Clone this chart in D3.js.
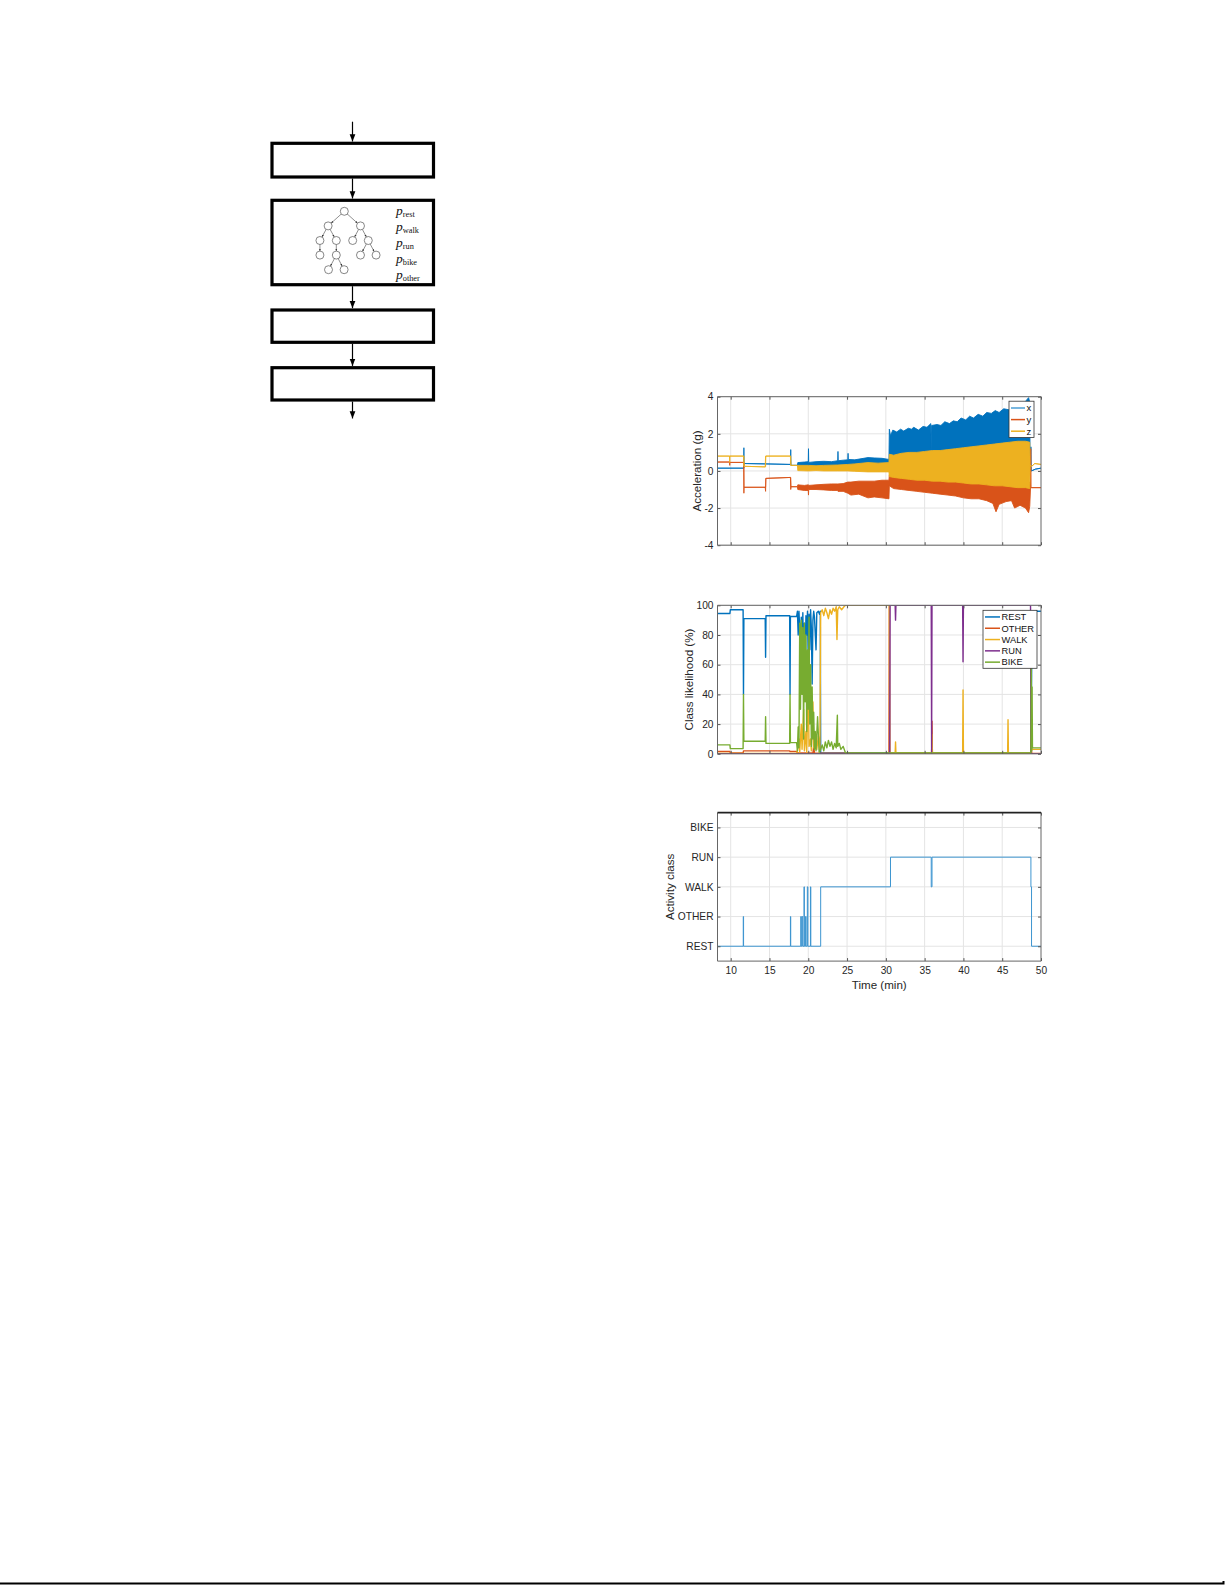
<!DOCTYPE html>
<html lang="en">
<head>
<meta charset="UTF-8">
<title>Activity classification pipeline</title>
<style>
  body { margin: 0; background: #fff; }
  svg { display: block; font-family: "Liberation Sans", Arial, sans-serif; }
  .tick text { fill: #262626; font-size: 10.2px; }
  .tick line { stroke: #555; }
  .grid line { stroke: #e4e4e4; stroke-width: 1; }
  .lbl { fill: #262626; font-size: 11.6px; }
</style>
</head>
<body>
<svg id="fig" width="1225" height="1585"></svg>
<script src="https://d3js.org/d3.v7.min.js"></script>
<script>
// ---- data ----
// acceleration: [time (min), low, high]  (low == high where the signal is quiet)
const accX = [
  [8.3,0.15,0.15],[9.9,0.15,0.15],[11.68,0.15,0.15],[11.7,0.15,1.25],[11.72,0.4,0.4],[14.5,0.38,0.38],
  [17.7,0.35,0.35],[17.74,0.35,1.15],[17.78,0.3,0.3],[18.6,0.3,0.3],
  [18.65,0.25,0.45],[19.5,0.24,0.48],[20.0,0.25,0.5],[20.03,0.25,1.2],[20.06,0.25,0.46],[21,0.26,0.5],
  [22,0.27,0.52],[23,0.27,0.5],[23.8,0.28,0.55],[23.83,0.28,1.05],[23.86,0.28,0.55],[24.5,0.3,0.58],
  [25.1,0.3,0.6],[25.13,0.3,0.95],[25.16,0.3,0.62],[26,0.3,0.6],[27.7,0.3,0.72],[28.5,0.3,0.7],
  [29.5,0.3,0.68],[30.4,0.3,0.62],
  [30.45,0.4,2.25],[30.6,0.4,1.9],[30.9,0.4,2.2],[31.4,0.4,2.1],[31.9,0.4,2.25],[32.3,0.4,2.15],
  [32.9,0.4,2.3],[33.3,0.4,2.25],[33.6,0.4,2.35],[34.2,0.4,2.2],[34.8,0.4,2.4],[35.3,0.4,2.35],
  [35.8,0.4,2.55],[35.85,0.4,1.0],[35.9,0.4,2.45],[36.6,0.4,2.5],[37.1,0.4,2.45],[37.6,0.4,2.65],
  [38.2,0.4,2.55],[38.7,0.4,2.7],[39.2,0.4,2.65],[39.7,0.4,2.85],[40.3,0.4,2.75],[40.8,0.4,2.95],
  [41.3,0.4,2.85],[41.9,0.4,3.05],[42.5,0.4,2.95],[43.0,0.4,3.15],[43.6,0.4,3.1],[44.1,0.4,3.25],
  [44.6,0.4,3.15],[45.2,0.4,3.35],[45.8,0.4,3.3],[46.3,0.4,3.45],[46.8,0.4,3.4],[47.3,0.4,3.6],
  [47.8,0.4,3.55],[48.1,0.4,3.8],[48.4,0.4,3.95],[48.55,0.4,3.7],
  [48.6,0.05,0.05],[48.7,0.05,1.3],[48.75,0.0,0.0],[49.3,0.1,0.1],[50,0.15,0.15]
];
const accY = [
  [8.3,0.48,0.48],[9.85,0.48,0.48],[9.88,0.3,0.48],[9.9,0.46,0.46],[11.68,0.46,0.46],[11.7,-1.2,0.46],
  [11.72,-0.88,-0.88],[14.45,-0.88,-0.88],[14.5,-1.1,-0.88],[14.53,-0.4,-0.4],[17.7,-0.35,-0.35],
  [17.74,-1.0,-0.35],[17.78,-0.85,-0.85],[18.6,-0.85,-0.85],
  [18.65,-1.0,-0.75],[19.5,-1.05,-0.78],[20.0,-1.05,-0.75],[20.03,-1.3,-0.75],[20.06,-1.0,-0.78],
  [21,-1.0,-0.75],[22,-1.02,-0.72],[23,-1.05,-0.7],[23.8,-1.05,-0.7],[23.83,-1.1,-0.7],[24.5,-1.1,-0.68],
  [25.1,-1.2,-0.6],[25.5,-1.3,-0.6],[26.5,-1.25,-0.55],[27.7,-1.45,-0.55],[28.5,-1.4,-0.55],
  [29.5,-1.45,-0.5],[30.4,-1.5,-0.5],
  [30.45,-0.8,-0.2],[31,-0.95,-0.25],[32,-1.0,-0.3],[33,-1.05,-0.3],[34,-1.1,-0.35],[35,-1.15,-0.35],
  [36,-1.2,-0.4],[37,-1.25,-0.4],[38,-1.3,-0.4],[39,-1.35,-0.45],[40,-1.45,-0.45],[41,-1.5,-0.5],
  [42,-1.5,-0.5],[43,-1.6,-0.5],[43.8,-1.75,-0.5],[44.2,-2.2,-0.55],[44.6,-1.8,-0.55],[45.5,-1.65,-0.55],
  [46.2,-1.6,-0.55],[46.6,-2.0,-0.6],[47.3,-1.85,-0.6],[48,-2.0,-0.6],[48.4,-2.25,-0.6],[48.55,-1.9,-0.6],
  [48.65,-0.9,-0.9],[48.68,-0.9,1.2],[48.72,-0.9,-0.9],[50,-0.9,-0.9]
];
const accZ = [
  [8.3,0.8,0.8],[9.85,0.8,0.8],[9.88,0.45,0.8],[9.9,0.8,0.8],[11.68,0.8,0.8],[11.7,0.25,0.8],
  [11.72,0.25,0.25],[14.45,0.22,0.22],[14.5,0.22,0.8],[14.53,0.8,0.8],[17.7,0.8,0.8],[17.74,0.3,0.8],
  [17.78,0.3,0.3],[18.6,0.3,0.3],
  [18.65,0.02,0.3],[20,0.0,0.3],[21,0.02,0.28],[22,0.0,0.3],[23.8,0.0,0.32],[25.1,0.0,0.35],
  [26,-0.02,0.38],[27.7,-0.05,0.45],[29,-0.05,0.42],[30.4,-0.05,0.45],
  [30.45,-0.3,0.9],[31,-0.35,0.85],[32,-0.4,0.95],[33,-0.45,1.0],[34,-0.5,1.0],[35,-0.5,1.05],
  [36,-0.55,1.1],[37,-0.55,1.1],[38,-0.6,1.15],[39,-0.6,1.2],[40,-0.65,1.25],[41,-0.7,1.3],
  [42,-0.7,1.35],[43,-0.75,1.4],[44,-0.8,1.45],[45,-0.8,1.5],[46,-0.85,1.55],[47,-0.9,1.6],
  [48,-0.9,1.6],[48.55,-0.95,1.55],
  [48.6,0.3,0.3],[48.8,0.25,0.25],[49.2,0.4,0.4],[50,0.35,0.35]
];
const accNames = ["x", "y", "z"];

// class likelihood (%): [time (min), value]
const pRest = [
  [8.3,94.5],[9.9,94.5],[9.95,97],[11.6,97],[11.65,40],[11.7,91],[14.45,91],[14.5,65],[14.55,93],
  [17.6,93],[17.65,40],[17.7,92.5],[18.5,92.5],[18.6,96],[18.7,80],[18.8,96],[18.9,84],[19.0,66],
  [19.1,92],[19.2,60],[19.3,95],[19.4,55],[19.5,88],[19.6,48],[19.7,93],[19.8,80],[19.9,96],[20.0,62],
  [20.1,94],[20.2,70],[20.3,97],[20.4,85],[20.5,47],[20.6,90],[20.7,96],[20.8,92],[21.0,70],[21.1,95],
  [21.3,96],[21.45,94],[21.55,96],[21.6,0.6],[48.7,0.6],[48.8,60],[48.9,96],[50,96]
];
const pOther = [
  [8.3,1.5],[9.9,1.5],[9.95,0.5],[11.6,0.5],[11.65,2],[17.6,2],[17.65,1.5],[18.5,1.5],[18.6,0.5],
  [20.6,0.5],[20.7,5],[20.8,0.5],[30.4,0.3],[30.45,100],[30.5,0.3],[35.9,0.3],[35.95,22],[36,0.3],
  [48.7,0.3],[48.75,8],[48.8,0.3],[50,0.3]
];
const pWalk = [
  [8.3,0.3],[18.5,0.3],[18.6,2],[18.8,10],[18.9,1],[19.1,20],[19.2,3],[19.4,30],[19.5,2],[19.7,15],
  [19.8,1],[20.0,45],[20.1,5],[20.3,10],[20.4,2],[20.6,35],[20.7,4],[20.9,8],[21.1,3],[21.3,12],
  [21.5,2],[21.6,95],[21.8,97],[22,93],[22.2,98],[22.4,95],[22.6,91],[22.8,97],[23,94],[23.2,98],
  [23.4,96],[23.6,99],[23.7,77],[23.8,97],[24,99],[24.3,97],[24.6,99],[24.8,100],[30.45,100],
  [30.5,0.5],[31.2,0.5],[31.25,8],[31.3,0.5],[35.9,0.5],[35.95,13],[36,0.5],[39.9,0.5],[39.95,43],
  [40,0.5],[45.7,0.5],[45.75,23],[45.8,0.5],[48.7,0.5],[48.75,20],[48.8,3],[50,3]
];
const pRun = [
  [8.3,0],[30.5,0],[30.55,100],[31.2,100],[31.25,90],[31.3,100],[35.85,100],[35.9,0],[35.95,100],
  [39.9,100],[39.95,62],[40,100],[48.65,100],[48.7,0],[50,0]
];
const pBike = [
  [8.3,6],[9.9,6],[9.95,3.5],[11.6,3.5],[11.65,40],[11.7,8.5],[14.45,8.5],[14.5,25],[14.55,7],
  [17.6,7],[17.65,40],[17.7,7.5],[18.5,7.5],[18.6,2],[18.7,18],[18.8,4],[18.9,88],[19.0,30],[19.1,90],
  [19.2,40],[19.3,85],[19.4,10],[19.5,88],[19.6,35],[19.7,80],[19.8,15],[19.9,70],[20.0,30],[20.1,92],
  [20.2,20],[20.3,60],[20.4,5],[20.5,45],[20.6,10],[20.7,28],[20.8,3],[20.9,15],[21.0,2],[21.2,25],
  [21.4,1],[21.6,3],[21.8,6],[22,2],[22.2,8],[22.4,4],[22.6,9],[22.8,5],[23,8],[23.2,3],[23.4,7],
  [23.6,4],[23.75,26],[23.8,5],[24,7],[24.2,3],[24.5,5],[24.8,0.5],[48.7,0.5],[48.75,58],[48.8,2],
  [48.85,45],[48.9,4],[50,4]
];
const likeNames = ["REST", "OTHER", "WALK", "RUN", "BIKE"];

// predicted activity class (1 = REST ... 5 = BIKE), step changes
const classT = [8.3, 11.62, 11.66, 17.7, 17.74, 19.03, 19.1, 19.2, 19.28, 19.45, 19.5, 19.65, 19.72,
  19.88, 19.95, 20.28, 20.33, 21.6, 30.6, 35.85, 35.95, 48.7, 48.78, 50];
const classV = [1, 2, 1, 2, 1, 2, 1, 2, 1, 3, 1, 2, 1, 3, 1, 3, 1, 3, 4, 3, 4, 3, 1, 1];
const classNames = ["REST", "OTHER", "WALK", "RUN", "BIKE"];

const timeTicks = [10, 15, 20, 25, 30, 35, 40, 45, 50];
const accTicks = [-4, -2, 0, 2, 4];
const likeTicks = [0, 20, 40, 60, 80, 100];

// flowchart
const probLabels = ["rest", "walk", "run", "bike", "other"];
const tree = { children: [
  { children: [ { children: [ {} ] }, { children: [ { children: [ {}, {} ] } ] } ] },
  { children: [ {}, { children: [ {}, {} ] } ] }
] };

// ---- drawing ----
const svg = d3.select("#fig");
const colors = ["#0072BD", "#D95319", "#EDB120", "#7E2F8E", "#77AC30"];

const L = 717.5, R = 1041, H = 148.5;
const x = d3.scaleLinear().domain([8.3, 50]).range([L, R]);

let clipId = 0;
function panel(top, y, yTicks, yFmt, showX, topColor) {
  const g = svg.append("g").attr("transform", `translate(0,${top})`);
  // grid
  const grid = g.append("g").attr("class", "grid");
  grid.selectAll(".gx").data(timeTicks.filter(t => t < 50)).join("line")
    .attr("x1", d => x(d)).attr("x2", d => x(d)).attr("y1", 0).attr("y2", H);
  grid.selectAll(".gy").data(yTicks).join("line")
    .attr("x1", L).attr("x2", R).attr("y1", d => y(d)).attr("y2", d => y(d));

  const id = "clip" + (clipId++);
  g.append("clipPath").attr("id", id).append("rect")
    .attr("x", L).attr("y", 0).attr("width", R - L).attr("height", H);
  const plot = g.append("g").attr("clip-path", `url(#${id})`);

  // axes, ticks pointing inward
  const ax = g.append("g").attr("transform", `translate(0,${H})`)
    .call(d3.axisBottom(x).tickValues(timeTicks).tickSizeInner(-3).tickSizeOuter(0).tickPadding(6)
      .tickFormat(showX ? d => String(d) : ""));
  ax.select(".domain").remove();
  const axT = g.append("g")
    .call(d3.axisTop(x).tickValues(timeTicks).tickSizeInner(-3).tickSizeOuter(0).tickFormat(""));
  axT.select(".domain").remove();
  const ay = g.append("g").attr("transform", `translate(${L},0)`)
    .call(d3.axisLeft(y).tickValues(yTicks).tickSizeInner(-3).tickSizeOuter(0).tickPadding(4).tickFormat(yFmt));
  ay.select(".domain").remove();
  const ayR = g.append("g").attr("transform", `translate(${R},0)`)
    .call(d3.axisRight(y).tickValues(yTicks).tickSizeInner(-3).tickSizeOuter(0).tickFormat(""));
  ayR.select(".domain").remove();

  g.append("path")
    .attr("d", `M${L},0V${H}H${R}V0`)
    .attr("fill", "none").attr("stroke", "#666").attr("stroke-width", 1);
  g.append("line").attr("x1", L).attr("x2", R).attr("y1", 0).attr("y2", 0)
    .attr("stroke", topColor).attr("stroke-width", topColor === "#666" ? 1 : 1.6);
  return { g, plot };
}

function legend(g, names, cols, x0, y0, w, rowH, lineLen, fs) {
  const lg = g.append("g").attr("transform", `translate(${x0},${y0})`);
  lg.append("rect").attr("width", w).attr("height", rowH * names.length + 1.5)
    .attr("fill", "#fff").attr("stroke", "#333").attr("stroke-width", 0.8);
  names.forEach((n, i) => {
    const yy = 1 + rowH * (i + 0.5);
    lg.append("line").attr("x1", 2).attr("x2", 2 + lineLen).attr("y1", yy).attr("y2", yy)
      .attr("stroke", cols[i]).attr("stroke-width", 1.5);
    lg.append("text").attr("x", 3.5 + lineLen).attr("y", yy).attr("dy", "0.35em")
      .attr("fill", "#111").attr("font-size", fs).text(n);
  });
}

// panel 1: acceleration
const yAcc = d3.scaleLinear().domain([-4, 4]).range([H, 0]);
const p1 = panel(396.7, yAcc, accTicks, d => String(d), false, "#666");
const band = d3.area().x(d => x(d[0])).y0(d => yAcc(d[1])).y1(d => yAcc(d[2]));
[accX, accY, accZ].forEach((s, i) => {
  p1.plot.append("path").datum(s).attr("d", band)
    .attr("fill", colors[i]).attr("stroke", colors[i]).attr("stroke-width", 0.9)
    .attr("stroke-linejoin", "round");
});
legend(p1.g, accNames, ["#4d9fd6", colors[1], colors[2]], 1009, 4.5, 25, 11.6, 14, 9.5);
svg.append("text").attr("class", "lbl")
  .attr("transform", `translate(701,${396.7 + H / 2}) rotate(-90)`)
  .attr("text-anchor", "middle").text("Acceleration (g)");

// panel 2: class likelihood
const yLike = d3.scaleLinear().domain([0, 100]).range([H, 0]);
const p2 = panel(605.3, yLike, likeTicks, d => String(d), false, "#666");
const like = d3.line().x(d => x(d[0])).y(d => yLike(d[1]));
[pRest, pOther, pWalk, pRun, pBike].forEach((s, i) => {
  p2.plot.append("path").datum(s).attr("d", like)
    .attr("fill", "none").attr("stroke", colors[i]).attr("stroke-width", 1.4)
    .attr("stroke-linejoin", "round");
});
legend(p2.g, likeNames, colors, 983, 5, 54, 11.3, 15, 9.3);
svg.append("text").attr("class", "lbl")
  .attr("transform", `translate(693,${605.3 + H / 2}) rotate(-90)`)
  .attr("text-anchor", "middle").text("Class likelihood (%)");

// panel 3: activity class
const yCls = d3.scaleLinear().domain([0.5, 5.5]).range([H, 0]);
const p3 = panel(812.6, yCls, [1, 2, 3, 4, 5], d => classNames[d - 1], true, "#222");
const step = d3.line().x((d, i) => x(classT[i])).y(d => yCls(d)).curve(d3.curveStepAfter);
p3.plot.append("path").datum(classV).attr("d", step)
  .attr("fill", "none").attr("stroke", "#3d95d0").attr("stroke-width", 1);
svg.append("text").attr("class", "lbl")
  .attr("transform", `translate(674,${812.6 + H / 2}) rotate(-90)`)
  .attr("text-anchor", "middle").text("Activity class");
svg.append("text").attr("class", "lbl")
  .attr("x", (L + R) / 2).attr("y", 989).attr("text-anchor", "middle").text("Time (min)");

// ---- flowchart ----
const fx = 352.5, boxX = 272, boxW = 161.5;
const boxTops = [143.3, 200.3, 310, 367.7], boxH = [33.7, 84.4, 32.3, 32.3];
svg.append("defs").append("marker").attr("id", "ah")
  .attr("viewBox", "0 0 10 10").attr("refX", 10).attr("refY", 5)
  .attr("markerWidth", 6).attr("markerHeight", 6).attr("orient", "auto")
  .append("path").attr("d", "M0,1L10,5L0,9Z").attr("fill", "#000");
svg.select("defs").append("marker").attr("id", "ahs")
  .attr("viewBox", "0 0 10 10").attr("refX", 10).attr("refY", 5)
  .attr("markerWidth", 4).attr("markerHeight", 4).attr("orient", "auto")
  .append("path").attr("d", "M0,1L10,5L0,9Z").attr("fill", "#333");

const arrowSegs = [[121.7, boxTops[0] - 1.8]];
boxTops.forEach((t, i) => {
  const end = i < boxTops.length - 1 ? boxTops[i + 1] - 1.8 : 418.5;
  arrowSegs.push([t + boxH[i] + 1.5, end]);
});
svg.selectAll(".farrow").data(arrowSegs).join("line")
  .attr("x1", fx).attr("x2", fx).attr("y1", d => d[0]).attr("y2", d => d[1])
  .attr("stroke", "#000").attr("stroke-width", 1.2).attr("marker-end", "url(#ah)");
svg.selectAll(".fbox").data(boxTops).join("rect")
  .attr("x", boxX).attr("y", d => d).attr("width", boxW).attr("height", (d, i) => boxH[i])
  .attr("fill", "#fff").attr("stroke", "#000").attr("stroke-width", 3.2);

// decision tree sketch
const root = d3.hierarchy(tree);
d3.tree().nodeSize([15.6, 14.6]).separation((a, b) => a.parent === b.parent ? 1 : 1.05)(root);
const tg = svg.append("g").attr("transform", "translate(344.3,211.3)");
tg.selectAll("line").data(root.links()).join("line")
  .attr("x1", d => d.source.x).attr("y1", d => d.source.y)
  .attr("x2", d => { const dx = d.target.x - d.source.x, dy = d.target.y - d.source.y, l = Math.hypot(dx, dy); return d.target.x - dx / l * 4; })
  .attr("y2", d => { const dx = d.target.x - d.source.x, dy = d.target.y - d.source.y, l = Math.hypot(dx, dy); return d.target.y - dy / l * 4; })
  .attr("stroke", "#444").attr("stroke-width", 0.6).attr("marker-end", "url(#ahs)");
tg.selectAll("circle").data(root.descendants()).join("circle")
  .attr("cx", d => d.x).attr("cy", d => d.y).attr("r", 4)
  .attr("fill", "#fff").attr("stroke", "#555").attr("stroke-width", 0.7);

const pt = svg.append("g").attr("font-family", "'Liberation Serif', 'DejaVu Serif', serif");
probLabels.forEach((n, i) => {
  const t = pt.append("text").attr("x", 396).attr("y", 214.5 + i * 16.1).attr("fill", "#111");
  t.append("tspan").attr("font-style", "italic").attr("font-size", 13.5).text("p");
  t.append("tspan").attr("font-size", 8.3).attr("dy", 2).text(n);
});

// page rule at the bottom
svg.append("path").attr("d", "M0,1583.5H1223.5V1581")
  .attr("fill", "none").attr("stroke", "#000").attr("stroke-width", 2);
</script>
</body>
</html>
